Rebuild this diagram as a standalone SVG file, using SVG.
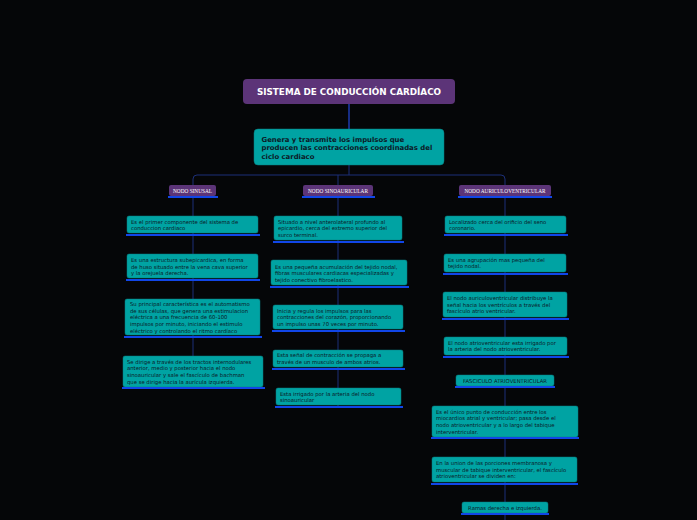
<svg xmlns="http://www.w3.org/2000/svg" width="697" height="520" viewBox="0 0 697 520">
<style>
.bg{fill:#050608}
.conn{fill:none;stroke:#1c2f78;stroke-width:1}
.top{fill:none;stroke:#2448d8;stroke-width:1.2}
.title{fill:#5c3478}
.cat{fill:#5c3478}
.box{fill:#00a3a3;stroke:#0a7f80;stroke-width:0.5}
.ul{fill:#1146e8}
.tt{font-family:"DejaVu Sans",Verdana,sans-serif;font-weight:bold;font-size:8.8px;fill:#ffffff}
.mt{font-family:"DejaVu Sans",Verdana,sans-serif;font-weight:bold;font-size:6.9px;fill:#0c1826}
.ct{font-family:"Liberation Serif","Times New Roman",serif;font-size:5.3px;fill:#ffffff}
.bt{font-family:"DejaVu Sans",Verdana,sans-serif;font-size:5.3px;fill:#0c1826}
</style>
<rect class="bg" x="0" y="0" width="697" height="520"/>
<g id="connectors">
<line class="top" x1="349" y1="104" x2="349" y2="129"/>
<path class="conn" d="M349 165 V175 M197 175 H501 M193 185 V179 Q193 175 197 175 M501 175 Q505 175 505 179 V185 M338 175 V185"/>
<line class="conn" x1="193" y1="197" x2="193" y2="388"/>
<line class="conn" x1="338" y1="197" x2="338" y2="407"/>
<line class="conn" x1="505" y1="197" x2="505" y2="520"/>
</g>
<g id="title">
<rect class="title" x="243" y="79" width="212" height="25" rx="4"/>
<text class="tt" x="349" y="95" text-anchor="middle">SISTEMA DE CONDUCCIÓN CARDÍACO</text>
</g>
<g id="main">
<rect class="box" x="254" y="129" width="190" height="36" rx="4"/>
<text class="mt" x="261.5" y="141.5">Genera y transmite los impulsos que</text>
<text class="mt" x="261.5" y="150">producen las contracciones coordinadas del</text>
<text class="mt" x="261.5" y="158.5">ciclo cardiaco</text>
</g>
<g id="cat-sinusal">
<rect class="cat" x="169" y="185" width="47" height="11" rx="2"/>
<rect class="ul" x="168" y="196" width="50" height="2"/>
<text class="ct" x="192.5" y="192.5" text-anchor="middle">NODO SINUSAL</text>
</g>
<g id="cat-sinoauricular">
<rect class="cat" x="303" y="185" width="70" height="11" rx="2"/>
<rect class="ul" x="302" y="196" width="73" height="2"/>
<text class="ct" x="338" y="192.5" text-anchor="middle">NODO SINOAURICULAR</text>
</g>
<g id="cat-av">
<rect class="cat" x="459" y="185" width="92" height="11" rx="2"/>
<rect class="ul" x="458" y="196" width="94" height="2"/>
<text class="ct" x="505" y="192.5" text-anchor="middle">NODO AURICULOVENTRICULAR</text>
</g>

<g id="l1">
<rect class="box" x="127" y="216" width="131" height="17" rx="2"/>
<rect class="ul" x="126" y="234" width="134" height="2"/>
<text class="bt" x="131" y="223.5">Es el primer componente del sistema de</text>
<text class="bt" x="131" y="230.3">conduccion cardiaco</text>
</g>
<g id="l2">
<rect class="box" x="127" y="254" width="131" height="24" rx="2"/>
<rect class="ul" x="126" y="279" width="134" height="2"/>
<text class="bt" x="131" y="262">Es una estructura subepicardica, en forma</text>
<text class="bt" x="131" y="268.7">de huso situado entre la vena cava superior</text>
<text class="bt" x="131" y="275.4">y la orejuela derecha.</text>
</g>
<g id="l3">
<rect class="box" x="125" y="299" width="135" height="36" rx="2"/>
<rect class="ul" x="124" y="336" width="138" height="2"/>
<text class="bt" x="130" y="306">Su principal característica es el automatismo</text>
<text class="bt" x="130" y="312.7">de sus células, que genera una estimulacion</text>
<text class="bt" x="130" y="319.4">eléctrica a una frecuencia de 60-100</text>
<text class="bt" x="130" y="326.1">impulsos por minuto, iniciando el estimulo</text>
<text class="bt" x="130" y="332.8">eléctrico y controlando el ritmo cardíaco</text>
</g>
<g id="l4">
<rect class="box" x="123" y="356" width="140" height="31" rx="2"/>
<rect class="ul" x="122" y="387" width="143" height="2"/>
<text class="bt" x="127" y="363.5">Se dirige a través de los tractos internodulares</text>
<text class="bt" x="127" y="370.2">anterior, medio y posterior hacia el nodo</text>
<text class="bt" x="127" y="376.9">sinoauricular y sale el fascículo de bachman</text>
<text class="bt" x="127" y="383.6">que se dirige hacia la aurícula izquierda.</text>
</g>

<g id="m1">
<rect class="box" x="274" y="216" width="128" height="24" rx="2"/>
<rect class="ul" x="273" y="241" width="131" height="2"/>
<text class="bt" x="278" y="223.5">Situado a nivel anterolateral profundo al</text>
<text class="bt" x="278" y="230.2">epicardio, cerca del extremo superior del</text>
<text class="bt" x="278" y="236.9">surco terminal.</text>
</g>
<g id="m2">
<rect class="box" x="271" y="260" width="136" height="25" rx="2"/>
<rect class="ul" x="270" y="286" width="139" height="2"/>
<text class="bt" x="275" y="268.5">Es una pequeña acumulación del tejido nodal,</text>
<text class="bt" x="275" y="275.2">fibras musculares cardiacas especializadas y</text>
<text class="bt" x="275" y="281.9">tejido conectivo fibroelastico.</text>
</g>
<g id="m3">
<rect class="box" x="273" y="305" width="130" height="24" rx="2"/>
<rect class="ul" x="272" y="330" width="133" height="2"/>
<text class="bt" x="277" y="312.7">Inicia y regula los impulsos para las</text>
<text class="bt" x="277" y="319.4">contracciones del corazón, proporcionando</text>
<text class="bt" x="277" y="326.1">un impulso unas 70 veces por minuto.</text>
</g>
<g id="m4">
<rect class="box" x="273" y="350" width="130" height="17" rx="2"/>
<rect class="ul" x="272" y="368" width="133" height="2"/>
<text class="bt" x="277" y="357">Esta señal de contracción se propaga a</text>
<text class="bt" x="277" y="363.7">través de un musculo de ambos atrios.</text>
</g>
<g id="m5">
<rect class="box" x="276" y="388" width="125" height="17" rx="2"/>
<rect class="ul" x="275" y="406" width="128" height="2"/>
<text class="bt" x="280" y="395.5">Esta irrigado por la arteria del nodo</text>
<text class="bt" x="280" y="402.2">sinoauricular</text>
</g>

<g id="r1">
<rect class="box" x="445" y="216" width="121" height="17" rx="2"/>
<rect class="ul" x="444" y="234" width="124" height="2"/>
<text class="bt" x="449" y="223.5">Localizado cerca del orificio del seno</text>
<text class="bt" x="449" y="230.2">coronario.</text>
</g>
<g id="r2">
<rect class="box" x="444" y="254" width="122" height="18" rx="2"/>
<rect class="ul" x="443" y="273" width="125" height="2"/>
<text class="bt" x="448" y="261.5">Es una agrupación mas pequeña del</text>
<text class="bt" x="448" y="268.2">tejido nodal.</text>
</g>
<g id="r3">
<rect class="box" x="443" y="292" width="124" height="25" rx="2"/>
<rect class="ul" x="442" y="318" width="127" height="2"/>
<text class="bt" x="447" y="299.8">El nodo auriculoventricular distribuye la</text>
<text class="bt" x="447" y="306.5">señal hacia los ventrículos a través del</text>
<text class="bt" x="447" y="313.2">fascículo atrio ventricular.</text>
</g>
<g id="r4">
<rect class="box" x="444" y="337" width="123" height="18" rx="2"/>
<rect class="ul" x="443" y="356" width="126" height="2"/>
<text class="bt" x="448" y="344.5">El nodo atrioventricular esta irrigado por</text>
<text class="bt" x="448" y="351.2">la arteria del nodo atrioventricular.</text>
</g>
<g id="r5">
<rect class="box" x="456" y="375" width="98" height="11" rx="2"/>
<rect class="ul" x="455" y="386" width="100" height="2"/>
<text class="bt" x="505" y="382.5" text-anchor="middle">FASCICULO ATRIOVENTRICULAR</text>
</g>
<g id="r6">
<rect class="box" x="432" y="406" width="146" height="31" rx="2"/>
<rect class="ul" x="431" y="437" width="148" height="2"/>
<text class="bt" x="436" y="413.5">Es el único punto de conducción entre los</text>
<text class="bt" x="436" y="420.2">miocardios atrial y ventricular; pasa desde el</text>
<text class="bt" x="436" y="426.9">nodo atrioventricular y a lo largo del tabique</text>
<text class="bt" x="436" y="433.6">interventricular.</text>
</g>
<g id="r7">
<rect class="box" x="432" y="457" width="145" height="25" rx="2"/>
<rect class="ul" x="431" y="483" width="147" height="2"/>
<text class="bt" x="436" y="464.8">En la union  de las porciones membranosa y</text>
<text class="bt" x="436" y="471.5">muscular de tabique interventricular, el fascículo</text>
<text class="bt" x="436" y="478.2">atrioventricular se dividen en:</text>
</g>
<g id="r8">
<rect class="box" x="462" y="502" width="86" height="11" rx="2"/>
<rect class="ul" x="461" y="513" width="88" height="2"/>
<text class="bt" x="505" y="509.5" text-anchor="middle">Ramas derecha e izquierda.</text>
</g>
</svg>
